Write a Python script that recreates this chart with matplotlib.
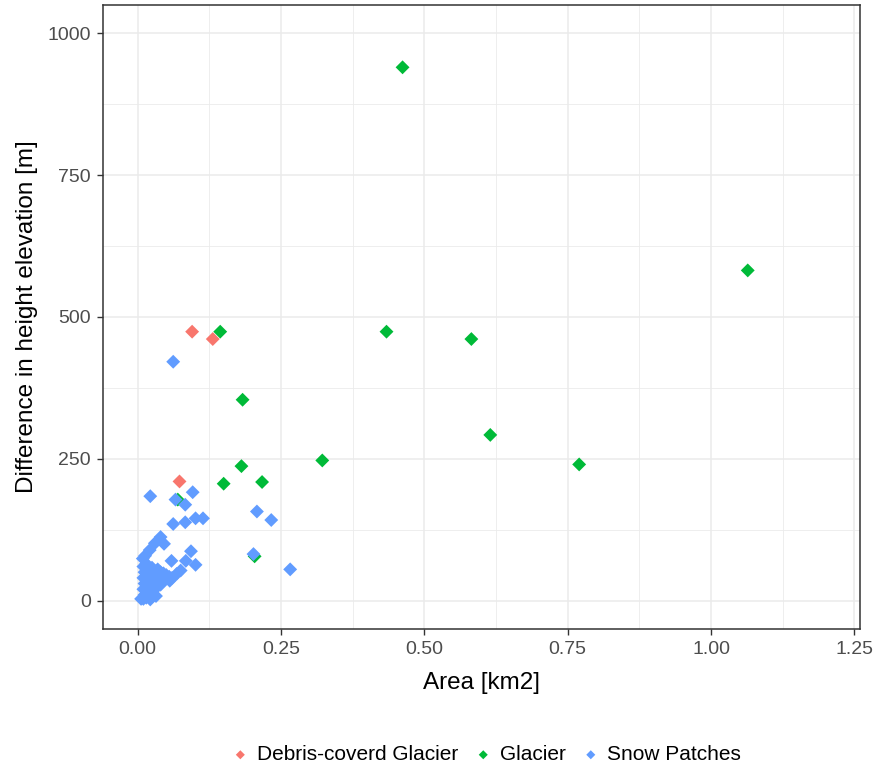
import matplotlib
matplotlib.use('Agg')
import matplotlib.pyplot as plt
from matplotlib.ticker import MultipleLocator

plt.rcParams['font.family'] = ['Liberation Sans', 'DejaVu Sans']

# Debris-covered glacier
debris_area = [0.095, 0.131, 0.073]
debris_diff = [474, 461, 210]

# Glacier
glacier_area = [0.462, 0.434, 0.582, 0.615, 0.770, 1.064, 0.322, 0.183, 0.181,
                0.150, 0.217, 0.144, 0.204, 0.070, 0.036, 0.043]
glacier_diff = [940, 474, 461, 292, 240, 582, 247, 354, 237,
                206, 209, 474, 78, 178, 41, 38]

# Snow patches
snow_area = [0.062, 0.022, 0.096, 0.066, 0.083, 0.062, 0.083, 0.101, 0.114,
             0.208, 0.233, 0.202, 0.266, 0.040, 0.046, 0.030, 0.021, 0.013,
             0.009, 0.093, 0.059, 0.084, 0.101, 0.075, 0.068, 0.056,
             0.010, 0.012, 0.010, 0.012, 0.010, 0.012, 0.010, 0.015, 0.020,
             0.025, 0.018, 0.022, 0.028, 0.020, 0.025, 0.030, 0.035, 0.040,
             0.045, 0.050, 0.055, 0.060, 0.035, 0.030, 0.040, 0.015, 0.025,
             0.018, 0.030, 0.045, 0.032, 0.022, 0.006, 0.030]
snow_diff = [421, 184, 191, 178, 169, 135, 138, 145, 145,
             157, 142, 82, 55, 112, 100, 101, 89, 79,
             74, 87, 70, 70, 63, 53, 47, 35,
             60, 50, 40, 30, 20, 10, 3, 5, 8,
             12, 18, 25, 30, 38, 45, 52, 55, 50,
             48, 45, 42, 40, 35, 20, 28, 65, 58,
             55, 40, 38, 8, 2, 3, 23]

groups = [
    ('Debris-coverd Glacier', debris_area, debris_diff, '#F8766D'),
    ('Glacier', glacier_area, glacier_diff, '#00BA38'),
    ('Snow Patches', snow_area, snow_diff, '#619CFF'),
]

fig = plt.figure(figsize=(8.75, 7.67), dpi=100)
ax = fig.add_axes([0.118, 0.18, 0.865, 0.8136])

for label, xs, ys, color in groups:
    ax.scatter(xs, ys, marker='D', s=50, color=color, edgecolors='none',
               label=label, zorder=3)

ax.set_xlim(-0.06, 1.26)
ax.set_ylim(-50, 1050)
ax.xaxis.set_major_locator(MultipleLocator(0.25))
ax.xaxis.set_minor_locator(MultipleLocator(0.125))
ax.yaxis.set_major_locator(MultipleLocator(250))
ax.yaxis.set_minor_locator(MultipleLocator(125))
ax.set_xticks([0, 0.25, 0.5, 0.75, 1.0, 1.25])
ax.set_xticklabels(['0.00', '0.25', '0.50', '0.75', '1.00', '1.25'])

ax.grid(which='major', color='#EBEBEB', linewidth=1.1, zorder=0)
ax.grid(which='minor', color='#EBEBEB', linewidth=0.6, zorder=0)
ax.set_axisbelow(True)
for sp in ax.spines.values():
    sp.set_color('#333333')
    sp.set_linewidth(1.1)
ax.tick_params(which='major', length=4, color='#333333', labelsize=14,
               labelcolor='#4D4D4D', width=1, pad=5)
ax.tick_params(which='minor', length=0)

ax.set_xlabel('Area [km2]', fontsize=17.5, labelpad=10)
ax.set_ylabel('Difference in height elevation [m]', fontsize=17.5, labelpad=7)

fig.legend(*ax.get_legend_handles_labels(), loc='center',
           bbox_to_anchor=(0.555, 0.016), ncol=3, frameon=False,
           fontsize=15, handletextpad=0.3, columnspacing=0.7,
           markerscale=0.65, handlelength=1.0)

fig.savefig('out.png', dpi=100)
